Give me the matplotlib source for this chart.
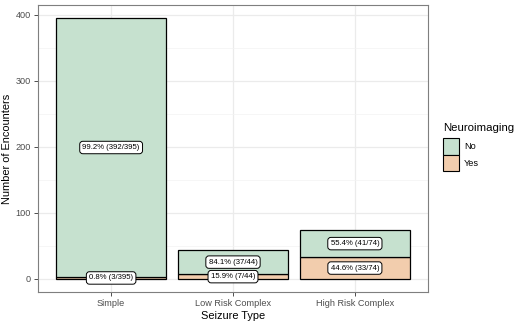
import matplotlib.pyplot as plt
import numpy as np
from matplotlib.patches import Patch

plt.rcParams['font.family'] = ['Liberation Sans', 'DejaVu Sans']

seizure_types = ["Simple", "Low Risk Complex", "High Risk Complex"]
no_counts = [392, 37, 41]
yes_counts = [3, 7, 33]
no_labels = ["99.2% (392/395)", "84.1% (37/44)", "55.4% (41/74)"]
yes_labels = ["0.8% (3/395)", "15.9% (7/44)", "44.6% (33/74)"]

no_color = "#c6e1cf"
yes_color = "#f2cdad"

fig = plt.figure(figsize=(5.25, 3.24), dpi=100)
ax = fig.add_axes([38 / 525, 32 / 324, 390 / 525, 287 / 324])

x = np.arange(1, len(seizure_types) + 1)
no_arr = np.array(no_counts)
yes_arr = np.array(yes_counts)

ax.bar(x, yes_arr, width=0.9, color=yes_color, edgecolor="black", linewidth=0.9, zorder=2)
ax.bar(x, no_arr, bottom=yes_arr, width=0.9, color=no_color, edgecolor="black", linewidth=0.9, zorder=2)

box = dict(boxstyle="round,pad=0.35,rounding_size=0.4", fc="white", ec="black", lw=0.7)
for xi, n, y, nl, yl in zip(x, no_arr, yes_arr, no_labels, yes_labels):
    ax.text(xi, y / 2, yl, ha="center", va="center", fontsize=5.6, bbox=box, zorder=4)
    ax.text(xi, y + n / 2, nl, ha="center", va="center", fontsize=5.6, bbox=box, zorder=4)

total_max = (no_arr + yes_arr).max()
ax.set_xlim(0.4, 3.6)
ax.set_ylim(-0.05 * total_max, 1.05 * total_max)
ax.set_xticks(x)
ax.set_xticklabels(seizure_types)
ax.set_yticks([0, 100, 200, 300, 400])
ax.set_yticks([50, 150, 250, 350], minor=True)

ax.grid(which="major", color="#ebebeb", linewidth=0.9, zorder=0)
ax.grid(which="minor", axis="y", color="#f3f3f3", linewidth=0.5, zorder=0)
ax.set_axisbelow(True)
ax.tick_params(which="major", colors="#4d4d4d", labelsize=6.6, length=3, width=0.7, pad=2)
ax.tick_params(which="minor", length=0)
for s in ax.spines.values():
    s.set_color("#7f7f7f")
    s.set_linewidth(0.8)

ax.set_xlabel("Seizure Type", fontsize=7.9, labelpad=2)
ax.set_ylabel("Number of Encounters", fontsize=7.9, labelpad=3)

handles = [Patch(facecolor=no_color, edgecolor="black", linewidth=0.8, label="No"),
           Patch(facecolor=yes_color, edgecolor="black", linewidth=0.8, label="Yes")]
leg = fig.legend(handles=handles, title="Neuroimaging", loc="upper left",
                 bbox_to_anchor=(441 / 525, 1 - 121 / 324), frameon=False,
                 fontsize=6.6, title_fontsize=8.2, handlelength=1.75, handleheight=2.4,
                 handletextpad=0.55, labelspacing=0.0, borderaxespad=0, borderpad=0.2)
leg._legend_box.align = "left"
leg._legend_box.sep = 4

fig.savefig("out.png", dpi=100)
